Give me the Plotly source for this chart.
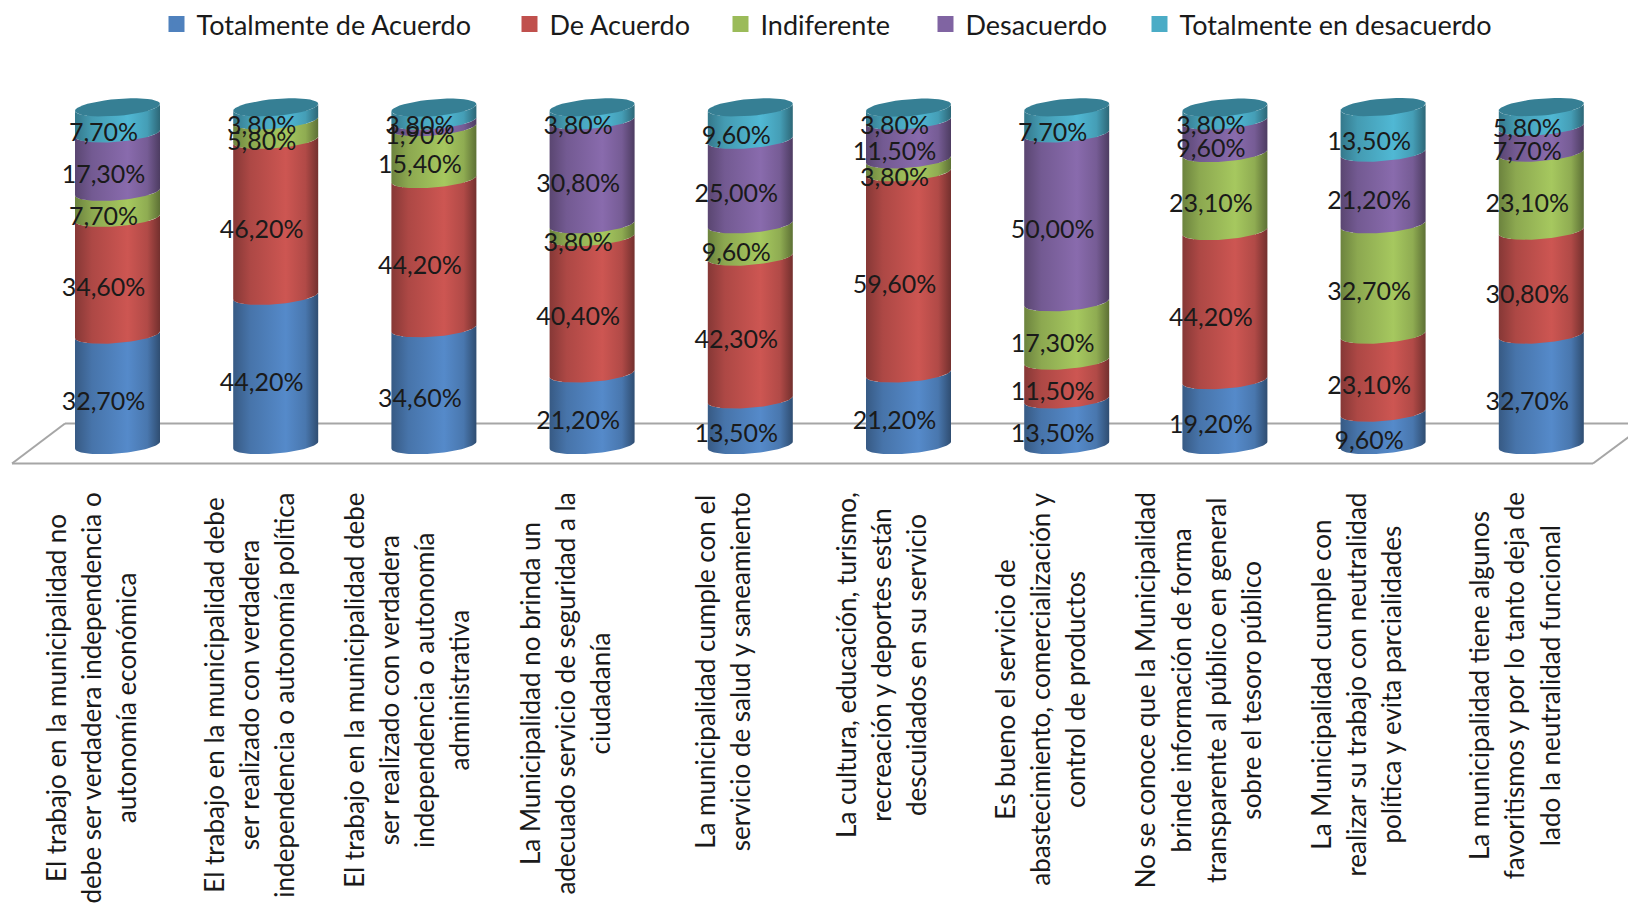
import math
import plotly.graph_objects as go

series_names = ["Totalmente de Acuerdo", "De Acuerdo", "Indiferente", "Desacuerdo", "Totalmente en desacuerdo"]
series_colors = ["#4f81bd", "#c0504d", "#9bbb59", "#8064a2", "#4bacc6"]

totalmente_acuerdo = [32.7, 44.2, 34.6, 21.2, 13.5, 21.2, 13.5, 19.2, 9.6, 32.7]
de_acuerdo = [34.6, 46.2, 44.2, 40.4, 42.3, 59.6, 11.5, 44.2, 23.1, 30.8]
indiferente = [7.7, 5.8, 15.4, 3.8, 9.6, 3.8, 17.3, 23.1, 32.7, 23.1]
desacuerdo = [17.3, 0, 1.9, 30.8, 25.0, 11.5, 50.0, 9.6, 21.2, 7.7]
totalmente_desacuerdo = [7.7, 3.8, 3.8, 3.8, 9.6, 3.8, 7.7, 3.8, 13.5, 5.8]
series_values = [totalmente_acuerdo, de_acuerdo, indiferente, desacuerdo, totalmente_desacuerdo]

categories = [
    ["El trabajo en la municipalidad no", "debe ser verdadera independencia o", "autonomía económica"],
    ["El trabajo en la municipalidad debe", "ser realizado con verdadera", "independencia o autonomía política"],
    ["El trabajo en la municipalidad debe", "ser realizado con verdadera", "independencia o autonomía", "administrativa"],
    ["La Municipalidad no brinda un", "adecuado servicio de seguridad a la", "ciudadanía"],
    ["La municipalidad cumple con el", "servicio de salud y saneamiento"],
    ["La cultura, educación, turismo,", "recreación y deportes están", "descuidados en su servicio"],
    ["Es bueno el servicio de", "abastecimiento, comercialización y", "control de productos"],
    ["No se conoce que la Municipalidad", "brinde información de forma", "transparente al público en general", "sobre el tesoro público"],
    ["La Municipalidad cumple con", "realizar su trabajo con neutralidad", "política y evita parcialidades"],
    ["La municipalidad tiene algunos", "favoritismos y por lo tanto deja de", "lado la neutralidad funcional"],
]

W, H = 1628, 908
X0_PX, DX_PX = 117.5, 158.2
Y0_PX, DY_PX = 444.5, 3.38
RX = 42.5 / DX_PX
RY = 8.5 / DY_PX
TILT = 3.5 / DY_PX
N = 40
FONT = "Lato"
LEGEND_X_PX = [156.5, 509.5, 720.5, 925.5, 1139.5]
LEGEND_IDS = ["legend", "legend2", "legend3", "legend4", "legend5"]


def shade(hex_color, f):
    rgb = [int(hex_color[i:i + 2], 16) for i in (1, 3, 5)]
    rgb = [min(255, round(c * f)) for c in rgb]
    return "rgb(%d,%d,%d)" % tuple(rgb)


def arc(cx, cy, t0, t1):
    xs, ys = [], []
    for k in range(N + 1):
        t = t0 + (t1 - t0) * k / N
        xs.append(cx + RX * math.cos(t))
        ys.append(cy + TILT * math.cos(t) + RY * math.sin(t))
    return xs, ys


def px(x):
    return x / W


def py(y):
    return 1 - y / H


fig = go.Figure()
xs_idx = list(range(len(categories)))

# stacked columns (legend + stacking), hidden behind the cylinder bodies
for name, vals, col, lid in zip(series_names, series_values, series_colors, LEGEND_IDS):
    fig.add_bar(x=xs_idx, y=vals, name=name, width=0.36, legend=lid,
                marker=dict(color=col, line=dict(width=4, color=col)), hoverinfo="skip")

# cylinder bodies
for j, (vals, col) in enumerate(zip(series_values, series_colors)):
    for i in xs_idx:
        if not vals[i]:
            continue
        lo = sum(series_values[s][i] for s in range(j))
        hi = lo + vals[i]
        x1, y1 = arc(i, lo, math.pi, 2 * math.pi)
        x2, y2 = arc(i, hi, 2 * math.pi, math.pi)
        scale = [[0, shade(col, .70)], [.2, shade(col, .90)], [.62, shade(col, 1.07)], [.85, shade(col, .92)], [1, shade(col, .60)]]
        fig.add_scatter(x=x1 + x2, y=y1 + y2, mode="lines", line=dict(width=0), fill="toself",
                        fillgradient=dict(type="horizontal", colorscale=scale, start=i - RX, stop=i + RX),
                        showlegend=False, hoverinfo="skip")

# top caps
for i in xs_idx:
    top = sum(v[i] for v in series_values)
    x, y = arc(i, top, 0, 2 * math.pi)
    fig.add_scatter(x=x, y=y, mode="lines", line=dict(width=0), fill="toself", fillcolor="#367f94",
                    showlegend=False, hoverinfo="skip")

# data labels (offset as in the perspective projection of the original)
for j, vals in enumerate(series_values):
    tx, ty, tt = [], [], []
    for i in xs_idx:
        if not vals[i]:
            continue
        lo = sum(series_values[s][i] for s in range(j))
        tx.append(i - 14 / DX_PX)
        ty.append(lo + vals[i] / 2 - 14 / DY_PX)
        tt.append(f"{vals[i]:.2f}".replace(".", ",") + "%")
    fig.add_scatter(x=tx, y=ty, text=tt, mode="text", textposition="middle center",
                    textfont=dict(family=FONT, size=25, color="#1a1a1a"), showlegend=False, hoverinfo="skip", cliponaxis=False)

floor = dict(type="line", xref="paper", yref="paper", layer="below", line=dict(color="#a6a6a6", width=2))
for a, b, c, d in [(12, 463, 1593, 463), (12, 463, 65, 423), (65, 423, 1628, 423), (1593, 463, 1640, 428)]:
    fig.add_shape(x0=px(a), y0=py(b), x1=px(c), y1=py(d), **floor)

for i, lines in zip(xs_idx, categories):
    inner = "<br>".join(f'<span style="font-size:26px">{l}</span>' for l in lines)
    fig.add_annotation(x=i, xref="x", xshift=-27, y=py(490), yref="paper", text=inner, textangle=-90, showarrow=False,
                       xanchor="center", yanchor="top", align="center", font=dict(family=FONT, size=27, color="#1a1a1a"))

legend_layout = {
    lid: dict(orientation="h", x=px(lx), y=py(24), xanchor="left", yanchor="middle",
              font=dict(family=FONT, size=27, color="#1a1a1a"), bgcolor="rgba(0,0,0,0)")
    for lid, lx in zip(LEGEND_IDS, LEGEND_X_PX)
}

fig.update_layout(
    width=W, height=H, margin=dict(l=0, r=0, t=0, b=0), paper_bgcolor="white", plot_bgcolor="white",
    barmode="stack", showlegend=True,
    xaxis=dict(range=[-X0_PX / DX_PX, (W - X0_PX) / DX_PX], visible=False),
    yaxis=dict(range=[-(H - Y0_PX) / DY_PX, Y0_PX / DY_PX], visible=False),
    **legend_layout,
)
fig.write_html("out.html", config={"displayModeBar": False},
               post_script="document.body.style.margin='0';document.documentElement.style.overflow='hidden';")
